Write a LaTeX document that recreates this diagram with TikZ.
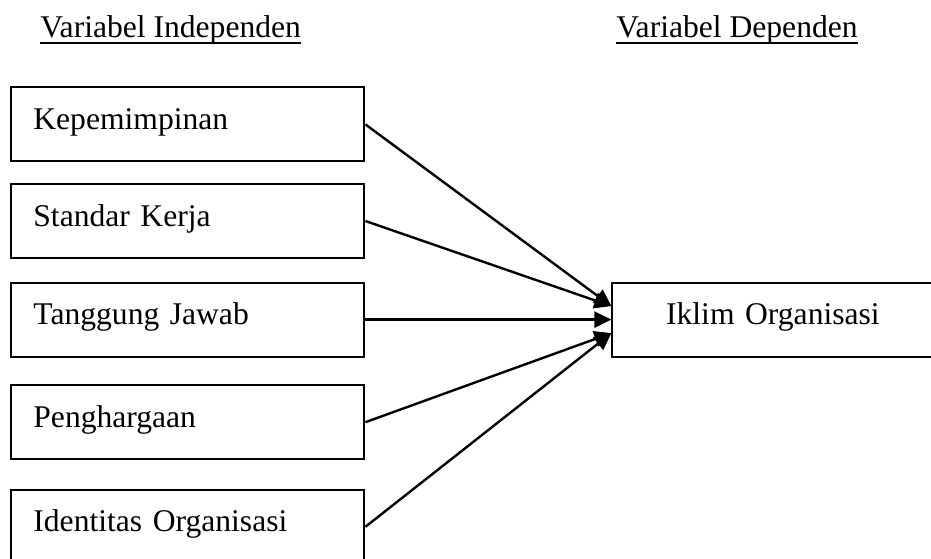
\documentclass[tikz,border=0pt]{standalone}
\usepackage{fontspec}
\setmainfont{Liberation Serif}
\usetikzlibrary{positioning,arrows.meta}

\tikzstyle{var}=[rectangle, draw=black, line width=1pt, minimum width=176.5pt, text width=154.5pt, inner xsep=11pt, inner ysep=0pt, text height=21pt, text depth=16pt, align=left]
\tikzstyle{head}=[inner sep=0pt, anchor=base west]

\begin{document}
\begin{tikzpicture}[every node/.style={font=\fontsize{15.8}{19}\selectfont}, >={Triangle[length=8.5pt,width=8pt]}]
    \useasboundingbox (0,0) rectangle (465.5pt,-279pt);

    % headings
    \node (indep) [head] at (20pt,-18.5pt) {Variabel Independen};
    \node (dep) [head] at (308pt,-18.5pt) {Variabel Dependen};
    \draw[line width=1pt] ([yshift=-2.75pt]indep.base west) -- ([yshift=-2.75pt]indep.base east);
    \draw[line width=1pt] ([yshift=-2.75pt]dep.base west) -- ([yshift=-2.75pt]dep.base east);

    \matrix[row sep=10.3pt, anchor=north west, inner sep=0pt] at (5pt,-43pt) {
      \node (pimpin) [var] {Kepemimpinan}; \\
      \node (standar) [var] {Standar Kerja}; \\[1pt]
      \node (tanggung) [var] {Tanggung Jawab}; \\[3pt]
      \node (harga) [var] {Penghargaan}; \\[4pt]
      \node (identitas) [var] {Identitas Organisasi}; \\
    };

    \node (iklim) [var, right=123pt of tanggung, minimum width=160.5pt, text width=138.5pt, align=center] {Iklim Organisasi};

    \path[->, line width=1.2pt]
    (pimpin.east) edge ([yshift=6.75pt]iklim.west)
    (standar.east) edge ([yshift=6.75pt]iklim.west)
    (tanggung.east) edge (iklim.west)
    (harga.east) edge ([yshift=-6.75pt]iklim.west)
    (identitas.east) edge ([yshift=-6.75pt]iklim.west);
  \end{tikzpicture}
\end{document}
